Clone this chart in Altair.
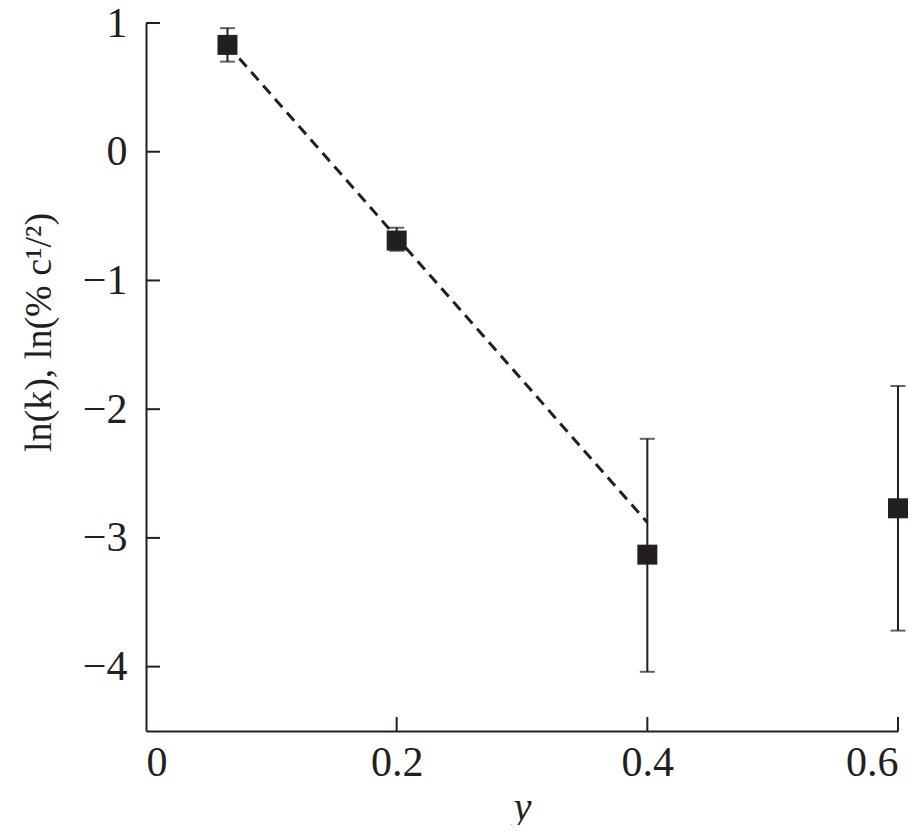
import altair as alt
import pandas as pd

# data
xs = [0.065, 0.2, 0.4, 0.6]
ys = [0.83, -0.69, -3.13, -2.77]
err_lo = [0.70, -0.77, -4.04, -3.72]
err_hi = [0.96, -0.59, -2.23, -1.82]
fit_x = [0.065, 0.4]
fit_y = [0.83, -2.88]
y_ticks = [1, 0, -1, -2, -3, -4]
x_ticks = [0.2, 0.4, 0.6]
x_labels = [0, 0.2, 0.4, 0.6]

W, H = 752, 708
INK = "#231f20"
FONT = "Liberation Serif"

pts = pd.DataFrame({"x": xs, "y": ys, "lo": err_lo, "hi": err_hi})
fit = pd.DataFrame({"x": fit_x, "y": fit_y})
yt = pd.DataFrame({"v": y_ticks})
xt = pd.DataFrame({"v": x_ticks})

xscale = alt.Scale(domain=[0, 0.6], nice=False, zero=False)
yscale = alt.Scale(domain=[-4.5, 1], nice=False, zero=False)

xaxis = alt.Axis(values=x_labels, format="~g", title="y", ticks=False, tickSize=0,
                 grid=False, labelPadding=11, titlePadding=4,
                 titleFontStyle="italic", titleFontWeight="normal")
yaxis = alt.Axis(values=y_ticks, format="d", title="ln(k), ln(% c¹/²)", ticks=False,
                 tickSize=0, grid=False, labelPadding=19, titleFontWeight="normal",
                 titleLimit=1000, titleX=-88, titleY=309, titleFontSize=38)

base = alt.Chart(pts)

line = alt.Chart(fit).mark_line(color=INK, strokeWidth=3, strokeDash=[11, 7]).encode(
    x=alt.X("x:Q", scale=xscale, axis=xaxis),
    y=alt.Y("y:Q", scale=yscale, axis=yaxis),
)

bars = base.mark_rule(color=INK, strokeWidth=2).encode(
    x=alt.X("x:Q", scale=xscale), y=alt.Y("lo:Q", scale=yscale), y2="hi:Q"
)
cap_lo = base.mark_tick(color=INK, orient="horizontal", size=15, thickness=2).encode(
    x=alt.X("x:Q", scale=xscale), y=alt.Y("lo:Q", scale=yscale)
)
cap_hi = base.mark_tick(color=INK, orient="horizontal", size=15, thickness=2).encode(
    x=alt.X("x:Q", scale=xscale), y=alt.Y("hi:Q", scale=yscale)
)
squares = base.mark_square(color=INK, size=400, opacity=1).encode(
    x=alt.X("x:Q", scale=xscale), y=alt.Y("y:Q", scale=yscale)
)

ytick_marks = alt.Chart(yt).mark_rule(color=INK, strokeWidth=2).encode(
    y=alt.Y("v:Q", scale=yscale), x=alt.value(0), x2=alt.value(14)
)
xtick_marks = alt.Chart(xt).mark_rule(color=INK, strokeWidth=2).encode(
    x=alt.X("v:Q", scale=xscale), y=alt.value(H - 14), y2=alt.value(H)
)

chart = alt.layer(line, bars, cap_lo, cap_hi, squares, ytick_marks, xtick_marks).properties(
    width=W, height=H,
    autosize=alt.AutoSizeParams(type="none"),
    padding={"left": 138, "top": 15, "right": 17, "bottom": 94},
).configure_view(stroke=None).configure_axis(
    domainColor=INK, domainWidth=2, labelColor=INK, titleColor=INK,
    labelFont=FONT, titleFont=FONT, labelFontSize=42, titleFontSize=40,
)

chart.save("out.html", embed_options={"renderer": "svg", "actions": False})
